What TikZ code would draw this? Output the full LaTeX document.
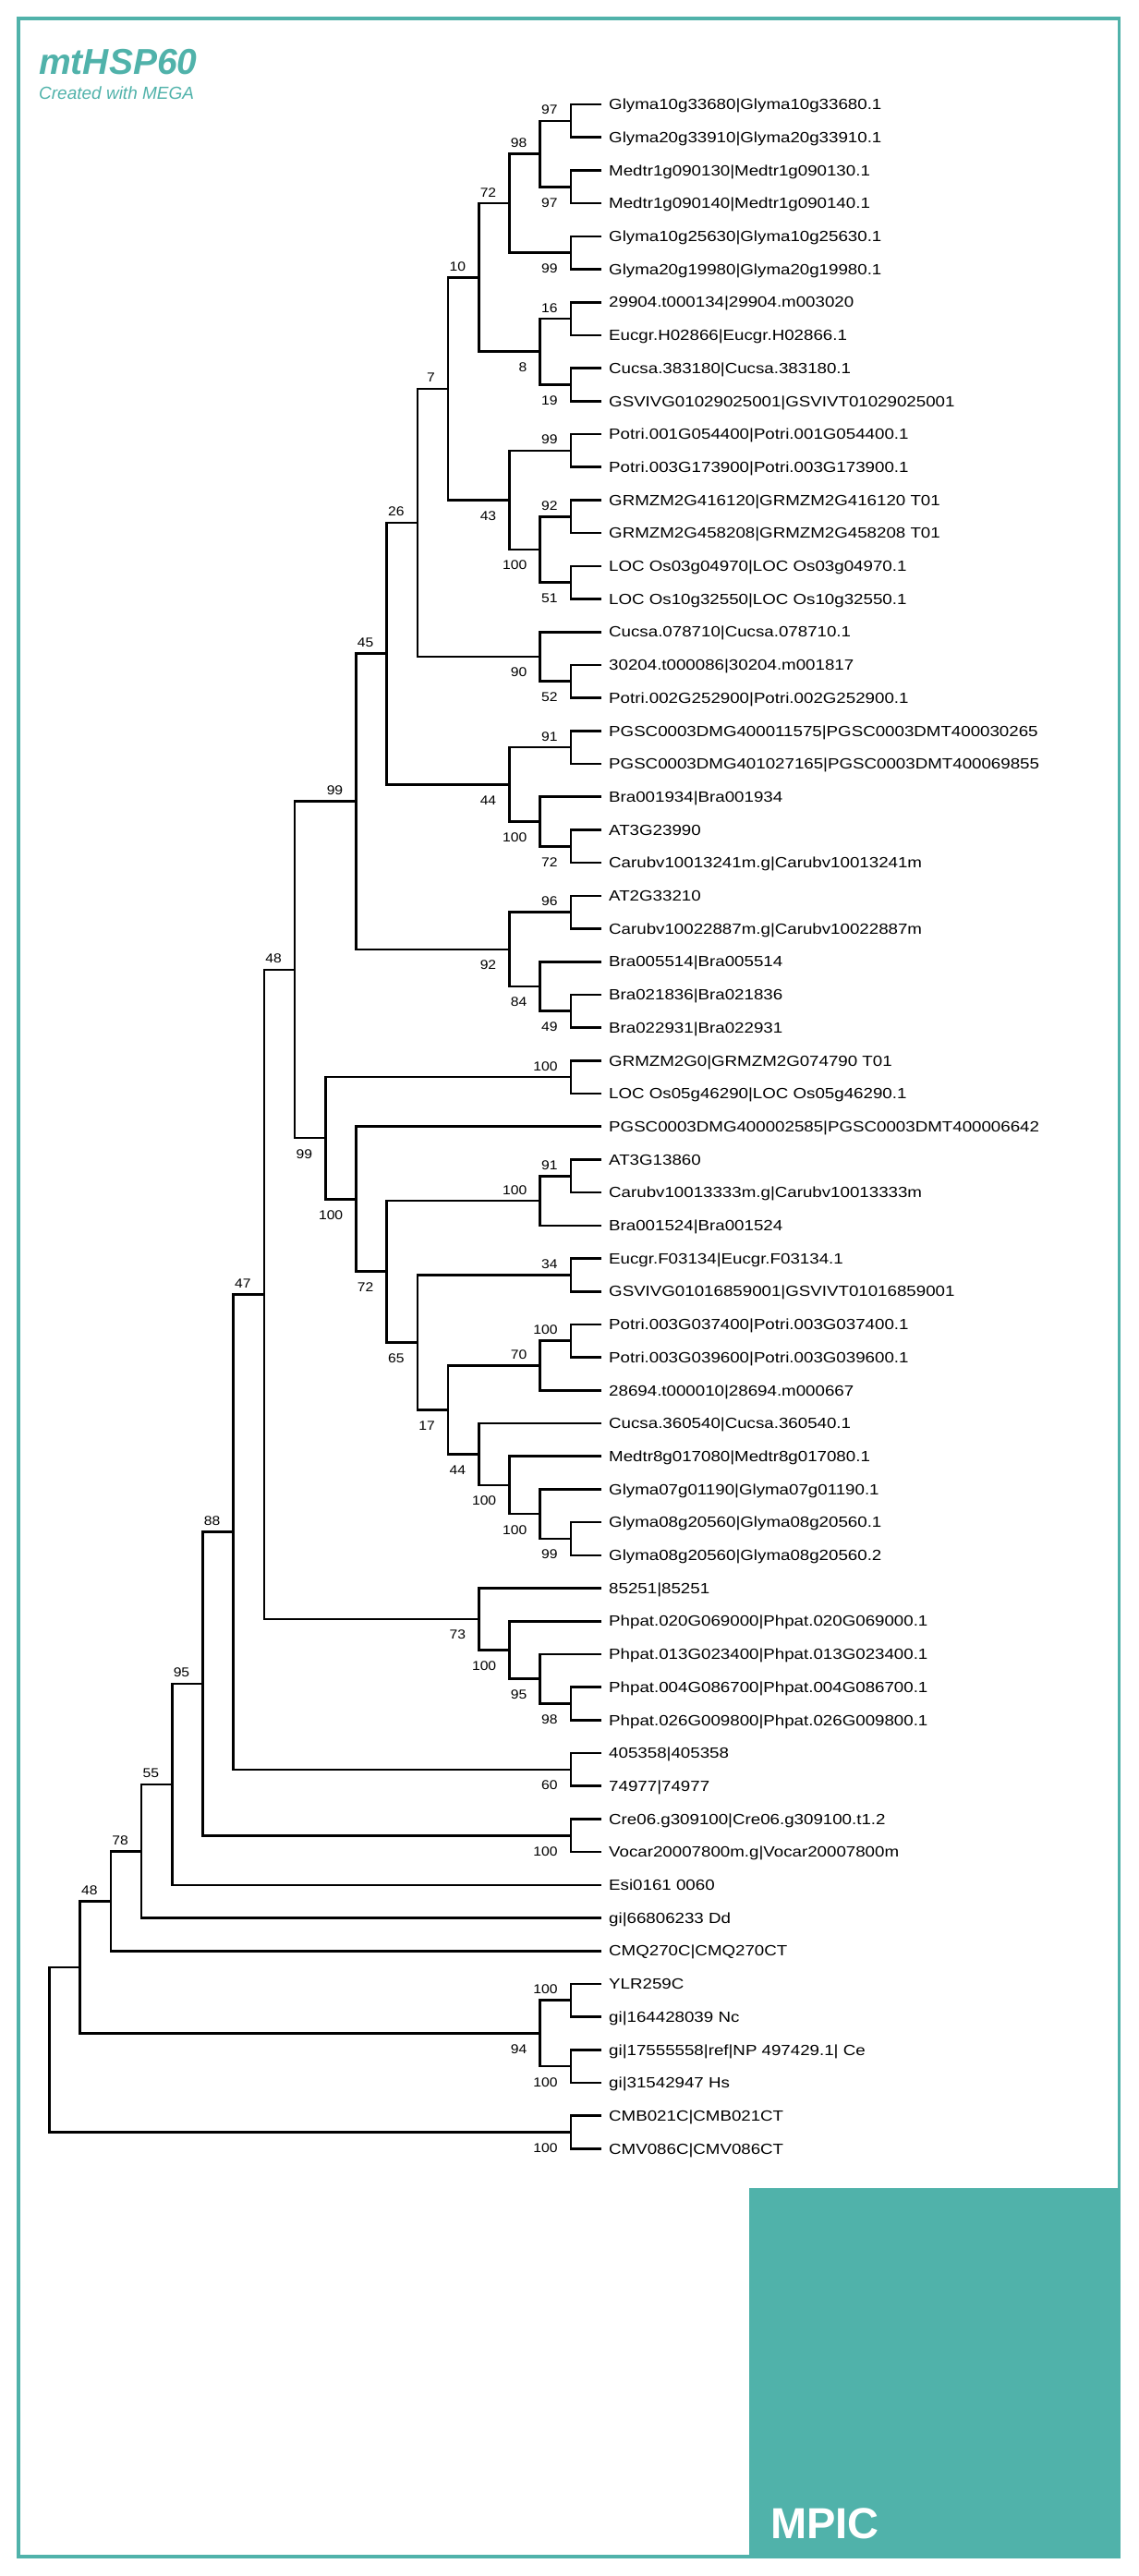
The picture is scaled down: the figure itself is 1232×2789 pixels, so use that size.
\documentclass[tikz,border=0pt]{standalone}
\usepackage{fontspec}
\setmainfont{Liberation Sans}
\newfontfamily\leaffont[FakeStretch=1.17]{Liberation Sans}
\newfontfamily\bootfont[FakeStretch=1.12]{Liberation Sans}
\definecolor{mpicteal}{RGB}{80, 178, 170}
\usetikzlibrary{calc}

\tikzset{
	branch/.style = {line width = 2.6pt},
	leaf/.style = {anchor = base west, inner sep = 0pt, xshift = 8pt, yshift = -5.7pt, font = \leaffont\fontsize{16}{16}\selectfont},
	bsnum/.style = {anchor = base east, inner sep = 0pt, xshift = -14pt, font = \bootfont\fontsize{14}{14}\selectfont},
	bsa/.style = {bsnum, yshift = 7pt},
	bsb/.style = {bsnum, yshift = -22pt}
}

% name, height, upper child, lower child, support, label style
\newcommand{\clade}[6]{%
	\path let \p1 = (#3), \p2 = (#4) in coordinate (#1) at ({651pt - 33.2pt * #2}, {(\y1 + \y2) / 2});
	\draw[branch] (#3) -| (#1) |- (#4);
	\ifx&#5&\else\node[#6] (#1-bs) at (#1) {#5};\fi
}

\begin{document}
\begin{tikzpicture}[x = 1pt, y = -1pt]
	\useasboundingbox (0,0) rectangle (1232,2789);
	\draw[mpicteal, line width = 3.3pt] (20,20) rectangle (1211.5,2768);
	\fill[mpicteal] (811,2369) rectangle (1213,2770);

	\node[anchor = base west, inner sep = 0pt, text = mpicteal, font = \bfseries\itshape\fontsize{39}{39}\selectfont] (title) at (42,80) {mtHSP60};
	\node[anchor = base west, inner sep = 0pt, text = mpicteal, font = \itshape\fontsize{19}{19}\selectfont] (credit) at (42,107) {Created with MEGA};
	\node[anchor = base west, inner sep = 0pt, text = white, font = \bfseries\fontsize{47}{47}\selectfont] (logo) at (834,2748) {MPIC};

	\foreach \lbl [count = \i] in {Glyma10g33680|Glyma10g33680.1,
		Glyma20g33910|Glyma20g33910.1,
		Medtr1g090130|Medtr1g090130.1,
		Medtr1g090140|Medtr1g090140.1,
		Glyma10g25630|Glyma10g25630.1,
		Glyma20g19980|Glyma20g19980.1,
		29904.t000134|29904.m003020,
		Eucgr.H02866|Eucgr.H02866.1,
		Cucsa.383180|Cucsa.383180.1,
		GSVIVG01029025001|GSVIVT01029025001,
		Potri.001G054400|Potri.001G054400.1,
		Potri.003G173900|Potri.003G173900.1,
		GRMZM2G416120|GRMZM2G416120 T01,
		GRMZM2G458208|GRMZM2G458208 T01,
		LOC Os03g04970|LOC Os03g04970.1,
		LOC Os10g32550|LOC Os10g32550.1,
		Cucsa.078710|Cucsa.078710.1,
		30204.t000086|30204.m001817,
		Potri.002G252900|Potri.002G252900.1,
		PGSC0003DMG400011575|PGSC0003DMT400030265,
		PGSC0003DMG401027165|PGSC0003DMT400069855,
		Bra001934|Bra001934,
		AT3G23990,
		Carubv10013241m.g|Carubv10013241m,
		AT2G33210,
		Carubv10022887m.g|Carubv10022887m,
		Bra005514|Bra005514,
		Bra021836|Bra021836,
		Bra022931|Bra022931,
		GRMZM2G0|GRMZM2G074790 T01,
		LOC Os05g46290|LOC Os05g46290.1,
		PGSC0003DMG400002585|PGSC0003DMT400006642,
		AT3G13860,
		Carubv10013333m.g|Carubv10013333m,
		Bra001524|Bra001524,
		Eucgr.F03134|Eucgr.F03134.1,
		GSVIVG01016859001|GSVIVT01016859001,
		Potri.003G037400|Potri.003G037400.1,
		Potri.003G039600|Potri.003G039600.1,
		28694.t000010|28694.m000667,
		Cucsa.360540|Cucsa.360540.1,
		Medtr8g017080|Medtr8g017080.1,
		Glyma07g01190|Glyma07g01190.1,
		Glyma08g20560|Glyma08g20560.1,
		Glyma08g20560|Glyma08g20560.2,
		85251|85251,
		Phpat.020G069000|Phpat.020G069000.1,
		Phpat.013G023400|Phpat.013G023400.1,
		Phpat.004G086700|Phpat.004G086700.1,
		Phpat.026G009800|Phpat.026G009800.1,
		405358|405358,
		74977|74977,
		Cre06.g309100|Cre06.g309100.t1.2,
		Vocar20007800m.g|Vocar20007800m,
		Esi0161 0060,
		gi|66806233 Dd,
		CMQ270C|CMQ270CT,
		YLR259C,
		gi|164428039 Nc,
		gi|17555558|ref|NP 497429.1| Ce,
		gi|31542947 Hs,
		CMB021C|CMB021CT,
		CMV086C|CMV086CT}
	{
		\coordinate (l\i) at (651, {113 + 35.7 * (\i - 1)});
		\node[leaf] (t\i) at (l\i) {\lbl};
	}

	% land plants
	\clade{c1}{1}{l1}{l2}{97}{bsa}
	\clade{c2}{1}{l3}{l4}{97}{bsb}
	\clade{c3}{2}{c1}{c2}{98}{bsa}
	\clade{c4}{1}{l5}{l6}{99}{bsb}
	\clade{c5}{3}{c3}{c4}{72}{bsa}
	\clade{c6}{1}{l7}{l8}{16}{bsa}
	\clade{c7}{1}{l9}{l10}{19}{bsb}
	\clade{c8}{2}{c6}{c7}{8}{bsb}
	\clade{c10}{4}{c5}{c8}{10}{bsa}
	\clade{c11}{1}{l11}{l12}{99}{bsa}
	\clade{c12}{1}{l13}{l14}{92}{bsa}
	\clade{c13}{1}{l15}{l16}{51}{bsb}
	\clade{c14}{2}{c12}{c13}{100}{bsb}
	\clade{c15}{3}{c11}{c14}{43}{bsb}
	\clade{c16}{5}{c10}{c15}{7}{bsa}
	\clade{c17}{1}{l18}{l19}{52}{bsb}
	\clade{c18}{2}{l17}{c17}{90}{bsb}
	\clade{c19}{6}{c16}{c18}{26}{bsa}
	\clade{c20}{1}{l20}{l21}{91}{bsa}
	\clade{c21}{1}{l23}{l24}{72}{bsb}
	\clade{c22}{2}{l22}{c21}{100}{bsb}
	\clade{c23}{3}{c20}{c22}{44}{bsb}
	\clade{c24}{7}{c19}{c23}{45}{bsa}
	\clade{c25}{1}{l25}{l26}{96}{bsa}
	\clade{c26}{1}{l28}{l29}{49}{bsb}
	\clade{c27}{2}{l27}{c26}{84}{bsb}
	\clade{c28}{3}{c25}{c27}{92}{bsb}
	\clade{c29}{8}{c24}{c28}{99}{bsa}
	\clade{c30}{1}{l30}{l31}{100}{bsa}
	\clade{c31}{1}{l33}{l34}{91}{bsa}
	\clade{c32}{2}{c31}{l35}{100}{bsa}
	\clade{c33}{1}{l36}{l37}{34}{bsa}
	\clade{c34}{1}{l38}{l39}{100}{bsa}
	\clade{c35}{2}{c34}{l40}{70}{bsa}
	\clade{c36}{1}{l44}{l45}{99}{bsb}
	\clade{c37}{2}{l43}{c36}{100}{bsb}
	\clade{c38}{3}{l42}{c37}{100}{bsb}
	\clade{c39}{4}{l41}{c38}{44}{bsb}
	\clade{c40}{5}{c35}{c39}{17}{bsb}
	\clade{c41}{6}{c33}{c40}{65}{bsb}
	\clade{c42}{7}{c32}{c41}{72}{bsb}
	\clade{c43}{8}{l32}{c42}{100}{bsb}
	\clade{c44}{9}{c30}{c43}{99}{bsb}
	\clade{c45}{10}{c29}{c44}{48}{bsa}
	\clade{c46}{1}{l49}{l50}{98}{bsb}
	\clade{c47}{2}{l48}{c46}{95}{bsb}
	\clade{c48}{3}{l47}{c47}{100}{bsb}
	\clade{c49}{4}{l46}{c48}{73}{bsb}
	\clade{c50}{11}{c45}{c49}{47}{bsa}
	\clade{c51}{1}{l51}{l52}{60}{bsb}
	\clade{c52}{12}{c50}{c51}{88}{bsa}

	% algae and outgroups
	\clade{c53}{1}{l53}{l54}{100}{bsb}
	\clade{c54}{13}{c52}{c53}{95}{bsa}
	\clade{c55}{14}{c54}{l55}{55}{bsa}
	\clade{c56}{15}{c55}{l56}{78}{bsa}
	\clade{c57}{16}{c56}{l57}{48}{bsa}
	\clade{c58}{1}{l58}{l59}{100}{bsa}
	\clade{c59}{1}{l60}{l61}{100}{bsb}
	\clade{c60}{2}{c58}{c59}{94}{bsb}
	\clade{c61}{17}{c57}{c60}{}{bsa}
	\clade{c62}{1}{l62}{l63}{100}{bsb}
	\clade{root}{18}{c61}{c62}{}{bsa}
\end{tikzpicture}
\end{document}
